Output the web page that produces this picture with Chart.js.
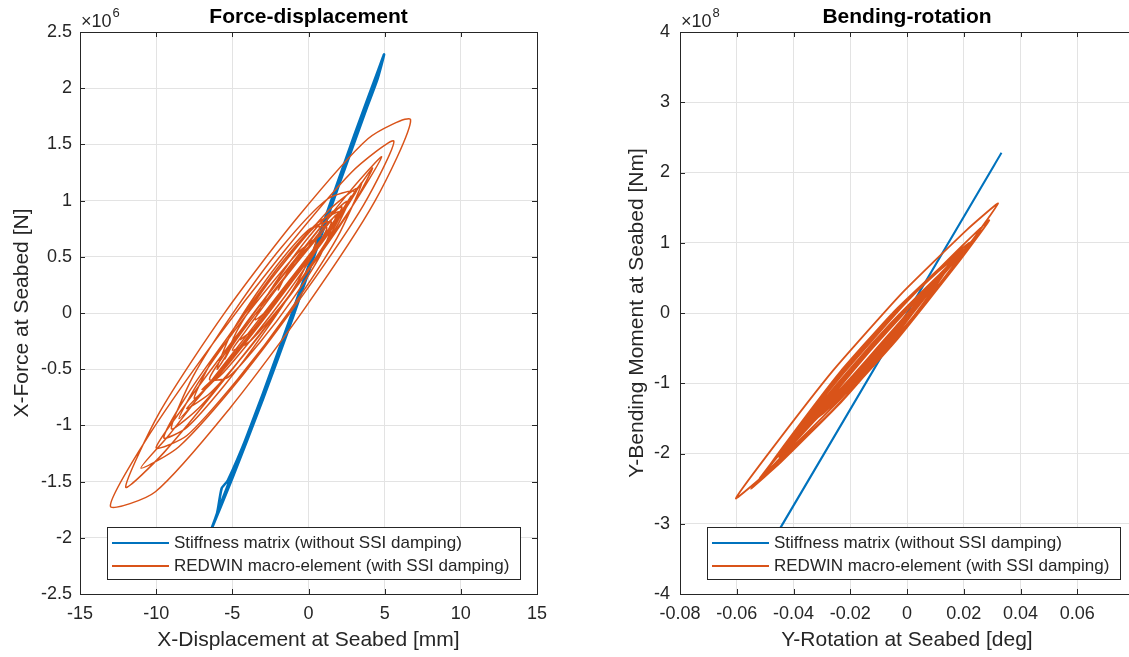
<!DOCTYPE html>
<html>
<head>
<meta charset="utf-8">
<script src="https://cdn.jsdelivr.net/npm/chart.js@4.4.1/dist/chart.umd.min.js"></script>
<style>
  html, body { margin: 0; padding: 0; background: #fff; overflow: hidden; }
  body { width: 1129px; height: 657px; position: relative; }
  canvas { position: absolute; top: 0; }
  #fd { left: 0; }
  #br { left: 600px; }
</style>
</head>
<body>
<canvas id="fd" width="560" height="657"></canvas>
<canvas id="br" width="560" height="657"></canvas>
<script>
// ---- Force-displacement (x in mm, y in 1e6 N) ----
const fdStiffX = [-1.0, 0.5, 2.0, 1.0, -1.0, -3.0, -4.0, -2.0, 0.0, 2.0, 3.5, 2.0, 0.0, -2.0, -4.0, -5.3, -5.7, -6.0, -6.6,
    -5.0, -3.0, -1.0, 1.0, 3.0, 4.5, 4.96, 4.6, 3.0, 1.0, -1.0, -3.0, -5.0, -5.8, -4.0, -2.0, 0.0, 2.0, 4.4, 3.0, 1.0, -1.0, -3.0, -1.0, 1.0];
const fdStiffY = [0.0, 0.57, 1.15, 0.80, 0.02, -0.73, -1.08, -0.40, 0.37, 1.14, 1.73, 1.19, 0.41, -0.36, -1.08, -1.49, -1.56, -1.78, -2.00,
    -1.47, -0.77, -0.03, 0.76, 1.53, 2.07, 2.30, 2.17, 1.58, 0.81, 0.03, -0.72, -1.43, -1.71, -1.12, -0.40, 0.36, 1.14, 2.04, 1.57, 0.80, 0.02, -0.74, 0.0, 0.78];

const fdRedwinX = [
    -4.5, -3.65, -2.22, -0.80, 0.52, 1.2, 0.12, -1.68, -3.48, -5.14,
    -6.0, -4.8, -2.8, -0.8, 1.04, 2.0, 0.58, -1.8, -4.18, -6.36,
    -7.5, -5.93, -3.3, -0.68, 1.74, 3.0, 1.2, -1.8, -4.8, -7.56,
    -9.0, -7.02, -3.72, -0.42, 2.62, 4.2, 1.92, -1.88, -5.68, -9.18,
    -11.0, -8.51, -4.36, -0.21, 3.61, 5.6, 2.81, -1.84, -6.49, -10.77,
    -13.0, -10.05, -5.12, -0.20, 4.34, 6.7, 3.90, -0.78, -5.46, -9.76,
    -12.0, -9.48, -5.28, -1.08, 2.78, 4.8, 2.58, -1.12, -4.82, -8.22,
    -10.0, -7.98, -4.6, -1.23, 1.88, 3.5, 1.78, -1.1, -3.98, -6.62,
    -8.0, -6.43, -3.8, -1.18, 1.24, 2.5, 1.15, -1.1, -3.35, -5.42,
    -6.5, -5.26, -3.18, -1.11, 0.80, 1.8, 0.78, -0.92, -2.62, -4.18,
    -5.0, -3.83, -1.88, 0.07, 1.86, 2.8, 1.33, -1.12, -3.57, -5.82,
    -7.0, -5.73, -3.6, -1.48, 0.48, 1.5, 0.45, -1.3, -3.05, -4.66,
    -5.5, -4.56, -2.98, -1.41, 0.04, 0.8, -0.60, -2.92, -5.25, -7.38,
    -8.5, -6.90, -4.22, -1.55, 0.92, 2.2, 1.35, -0.08, -1.51, -2.82,
    -3.5, -2.50, -0.82, 0.86, 2.40, 3.2, 1.30, -1.88, -5.06, -7.98,
    -9.5, -8.0, -5.5, -3.0, -0.7, 0.5, -0.5, -1.4, -2.0];
const fdRedwinY = [
    -0.24, -0.15, 0.08, 0.34, 0.59, 0.76, 0.75, 0.49, 0.16, -0.20,
    -0.50, -0.25, 0.11, 0.45, 0.77, 0.90, 0.80, 0.44, 0.00, -0.43,
    -0.76, -0.56, -0.12, 0.35, 0.79, 1.08, 1.01, 0.58, 0.03, -0.56,
    -1.03, -0.82, -0.28, 0.30, 0.89, 1.29, 0.85, 0.18, -0.48, -1.09,
    -1.38, -1.19, -0.56, 0.19, 0.96, 1.53, 1.25, 0.51, -0.31, -1.15,
    -1.72, -1.59, -0.84, 0.05, 0.99, 1.72, 1.55, 0.84, 0.01, -0.88,
    -1.55, -1.24, -0.55, 0.19, 0.93, 1.39, 1.06, 0.43, -0.22, -0.84,
    -1.20, -1.09, -0.58, 0.02, 0.67, 1.16, 0.82, 0.29, -0.21, -0.65,
    -0.85, -0.71, -0.30, 0.17, 0.65, 0.99, 0.82, 0.44, 0.04, -0.35,
    -0.59, -0.57, -0.26, 0.11, 0.52, 0.87, 0.70, 0.42, 0.12, -0.17,
    -0.33, -0.25, 0.05, 0.39, 0.77, 1.04, 0.72, 0.27, -0.15, -0.53,
    -0.68, -0.55, -0.21, 0.16, 0.55, 0.81, 0.77, 0.50, 0.19, -0.15,
    -0.41, -0.18, 0.11, 0.38, 0.62, 0.69, 0.55, 0.18, -0.23, -0.65,
    -0.94, -0.70, -0.25, 0.22, 0.67, 0.94, 0.88, 0.66, 0.40, 0.13,
    -0.06, 0.05, 0.33, 0.62, 0.92, 1.11, 0.91, 0.40, -0.17, -0.73,
    -1.11, -1.02, -0.64, -0.19, 0.28, 0.64, 0.52, 0.36, 0.20];

// ---- Bending-rotation (x in deg, y in 1e8 Nm) ----
const brStiffX = [0.0, 0.0333, -0.050, 0.031, -0.046, 0.0];
const brStiffY = [0.0, 2.28, -3.43, 2.12, -3.15, 0.0];

const brRedwinX = [
    0.010, 0.0046, -0.0067, -0.0184, -0.0296,
    -0.035, -0.029, -0.0165, -0.0035, 0.009,
    0.015, 0.0084, -0.0054, -0.0197, -0.0334,
    -0.040, -0.033, -0.0185, -0.0035, 0.011,
    0.018, 0.0104, -0.0053, -0.0217, -0.0374,
    -0.045, -0.037, -0.0202, -0.0028, 0.014,
    0.022, 0.0134, -0.0046, -0.0234, -0.0414,
    -0.050, -0.0409, -0.0219, -0.0021, 0.0169,
    0.026, 0.0163, -0.0040, -0.0250, -0.0453,
    -0.055, -0.0446, -0.0228, -0.0001, 0.0217,
    0.0321, 0.0210, -0.0021, -0.0261, -0.0492,
    -0.0603, -0.0496, -0.0273, -0.0040, 0.0183,
    0.029, 0.0193, -0.0010, -0.0220, -0.0423,
    -0.052, -0.0434, -0.0254, -0.0066, 0.0114,
    0.020, 0.0124, -0.0033, -0.0197, -0.0354,
    -0.043, -0.0364, -0.0227, -0.0084, 0.0054,
    0.012, 0.006, -0.0065, -0.0195, -0.032,
    -0.038, -0.0315, -0.018, -0.004, 0.0095,
    0.016, 0.0105, -0.0010, -0.0130, -0.0245,
    -0.030, -0.0254, -0.0159, -0.0061, 0.0034,
    0.008, 0.0031, -0.0072, -0.0178, -0.0281,
    -0.033, -0.0284, -0.0189, -0.0091, 0.0004,
    0.005, -0.0006, -0.0124, -0.0246, -0.0364,
    -0.042, -0.0354, -0.0217, -0.0073, 0.0064,
    0.013, 0.0071, -0.0051, -0.0179, -0.0301,
    -0.036, -0.0305, -0.0190, -0.0070, 0.0045, 0.010];
const brRedwinY = [
    0.45, 0.23, -0.24, -0.77, -1.32,
    -1.59, -1.41, -0.94, -0.35, 0.32,
    0.68, 0.43, -0.13, -0.78, -1.47,
    -1.82, -1.48, -0.79, -0.10, 0.53,
    0.82, 0.57, -0.03, -0.77, -1.61,
    -2.05, -1.71, -0.99, -0.19, 0.61,
    1.00, 0.71, 0.02, -0.83, -1.78,
    -2.27, -1.93, -1.16, -0.26, 0.69,
    1.18, 0.71, -0.24, -1.20, -2.09,
    -2.50, -2.13, -1.25, -0.19, 0.96,
    1.56, 1.18, 0.27, -0.82, -2.02,
    -2.64, -2.28, -1.43, -0.40, 0.73,
    1.32, 0.95, 0.12, -0.84, -1.85,
    -2.36, -1.94, -1.10, -0.25, 0.54,
    0.91, 0.65, 0.04, -0.71, -1.52,
    -1.95, -1.69, -1.11, -0.46, 0.21,
    0.55, 0.25, -0.34, -0.93, -1.48,
    -1.73, -1.49, -0.95, -0.31, 0.38,
    0.73, 0.50, 0.00, -0.54, -1.09,
    -1.36, -1.22, -0.86, -0.41, 0.09,
    0.36, 0.18, -0.24, -0.72, -1.24,
    -1.50, -1.30, -0.88, -0.43, 0.01,
    0.23, 0.02, -0.45, -1.01, -1.60,
    -1.91, -1.65, -1.08, -0.43, 0.25,
    0.59, 0.31, -0.26, -0.84, -1.38,
    -1.64, -1.45, -1.01, -0.47, 0.13, 0.45];

const seriesLabels = ['Stiffness matrix (without SSI damping)', 'REDWIN macro-element (with SSI damping)'];
const fdXTicks = [-15, 15, 5];
const fdYTicks = [-2.5, 2.5, 0.5];
const brXTicks = [-0.08, 0.08, 0.02];
const brYTicks = [-4, 4, 1];

const BLUE = '#0072BD';
const ORANGE = '#D95319';
const AXIS = '#262626';
const FONT = '"Liberation Sans", Arial, Helvetica, sans-serif';

Chart.defaults.font.family = FONT;
Chart.defaults.color = AXIS;

const toPts = (xs, ys) => xs.map((x, i) => ({ x: x, y: ys[i] }));
const fmt = v => String(Number(v.toFixed(3)));

// box, inward ticks, title, exponent and the legend, MATLAB style
const matlabAxes = {
    id: 'matlabAxes',
    afterDraw(chart, args, opts) {
        const { ctx, chartArea: a, scales } = chart;
        ctx.save();
        ctx.strokeStyle = AXIS;
        ctx.lineWidth = 1;
        ctx.strokeRect(a.left + 0.5, a.top + 0.5, a.right - a.left, a.bottom - a.top);

        ctx.beginPath();
        scales.x.ticks.forEach(t => {
            const px = Math.round(scales.x.getPixelForValue(t.value)) + 0.5;
            ctx.moveTo(px, a.bottom); ctx.lineTo(px, a.bottom - 5);
            ctx.moveTo(px, a.top); ctx.lineTo(px, a.top + 5);
        });
        scales.y.ticks.forEach(t => {
            const py = Math.round(scales.y.getPixelForValue(t.value)) + 0.5;
            ctx.moveTo(a.left, py); ctx.lineTo(a.left + 5, py);
            ctx.moveTo(a.right, py); ctx.lineTo(a.right - 5, py);
        });
        ctx.stroke();

        // title
        ctx.fillStyle = '#000';
        ctx.font = 'bold 21px ' + FONT;
        ctx.textAlign = 'center';
        ctx.textBaseline = 'middle';
        ctx.fillText(opts.title, (a.left + a.right) / 2, 17);

        // exponent
        ctx.fillStyle = AXIS;
        ctx.textAlign = 'left';
        ctx.textBaseline = 'alphabetic';
        ctx.font = '18px ' + FONT;
        ctx.fillText('\u00d710', a.left + 1, 27);
        const w = ctx.measureText('\u00d710').width;
        ctx.font = '13px ' + FONT;
        ctx.fillText(opts.exponent, a.left + 2 + w, 17);

        // legend box inside the axes
        const bx = a.left + 27, by = a.bottom - 67, bw = 413, bh = 52;
        ctx.fillStyle = '#fff';
        ctx.fillRect(bx, by, bw, bh);
        ctx.strokeStyle = AXIS;
        ctx.strokeRect(bx + 0.5, by + 0.5, bw, bh);
        ctx.font = '17px ' + FONT;
        ctx.textBaseline = 'middle';
        chart.data.datasets.forEach((ds, i) => {
            const ry = by + 16 + i * 23;
            ctx.strokeStyle = ds.borderColor;
            ctx.lineWidth = 2;
            ctx.beginPath();
            ctx.moveTo(bx + 5, ry); ctx.lineTo(bx + 62, ry);
            ctx.stroke();
            ctx.fillStyle = AXIS;
            ctx.fillText(ds.label, bx + 67, ry);
        });
        ctx.restore();
    }
};

function makeChart(id, cfg) {
    return new Chart(document.getElementById(id), {
        type: 'scatter',
        data: {
            datasets: [{
                label: seriesLabels[0],
                data: toPts(cfg.sx, cfg.sy),
                borderColor: BLUE,
                borderWidth: cfg.blueWidth,
                tension: cfg.blueTension,
                showLine: true,
                pointRadius: 0,
                order: 1
            }, {
                label: seriesLabels[1],
                data: toPts(cfg.rx, cfg.ry),
                borderColor: ORANGE,
                borderWidth: cfg.redWidth,
                tension: cfg.redTension,
                showLine: true,
                pointRadius: 0,
                order: 0
            }]
        },
        options: {
            responsive: false,
            animation: false,
            events: [],
            layout: { padding: { top: 32, right: cfg.padRight, left: 0, bottom: 0 } },
            plugins: {
                legend: { display: false },
                tooltip: { enabled: false },
                matlabAxes: { title: cfg.title, exponent: cfg.exponent }
            },
            scales: {
                x: {
                    type: 'linear',
                    min: cfg.xTicks[0], max: cfg.xTicks[1],
                    afterFit: s => { s.height = 63; },
                    ticks: {
                        stepSize: cfg.xTicks[2], autoSkip: false, maxRotation: 0, padding: 9,
                        font: { size: 18 }, color: AXIS,
                        callback: v => (cfg.hideXMax && Math.abs(v - cfg.xTicks[1]) < 1e-9) ? '' : fmt(v)
                    },
                    grid: { color: '#e3e3e3', drawTicks: false },
                    border: { display: false },
                    title: { display: true, text: cfg.xTitle, font: { size: 21 }, color: AXIS, padding: { bottom: 4 } }
                },
                y: {
                    type: 'linear',
                    min: cfg.yTicks[0], max: cfg.yTicks[1],
                    afterFit: s => { s.width = 80; },
                    ticks: {
                        stepSize: cfg.yTicks[2], autoSkip: false, padding: cfg.yPad,
                        font: { size: 18 }, color: AXIS,
                        callback: v => fmt(v)
                    },
                    grid: { color: '#e3e3e3', drawTicks: false },
                    border: { display: false },
                    title: { display: true, text: cfg.yTitle, font: { size: 21 }, color: AXIS, padding: { top: cfg.yTitlePad } }
                }
            }
        },
        plugins: [matlabAxes]
    });
}

makeChart('fd', {
    sx: fdStiffX, sy: fdStiffY, rx: fdRedwinX, ry: fdRedwinY,
    blueWidth: 2.6, blueTension: 0.2, redWidth: 1.5, redTension: 0.25,
    xTicks: fdXTicks, yTicks: fdYTicks, padRight: 23, yPad: 8, yTitlePad: 10,
    title: 'Force-displacement', exponent: '6',
    xTitle: 'X-Displacement at Seabed [mm]', yTitle: 'X-Force at Seabed [N]'
});

makeChart('br', {
    sx: brStiffX, sy: brStiffY, rx: brRedwinX, ry: brRedwinY,
    blueWidth: 2, blueTension: 0, redWidth: 1.8, redTension: 0.15,
    xTicks: brXTicks, yTicks: brYTicks, padRight: 26, yPad: 10, yTitlePad: 25, hideXMax: true,
    title: 'Bending-rotation', exponent: '8',
    xTitle: 'Y-Rotation at Seabed [deg]', yTitle: 'Y-Bending Moment at Seabed [Nm]'
});
</script>
</body>
</html>
